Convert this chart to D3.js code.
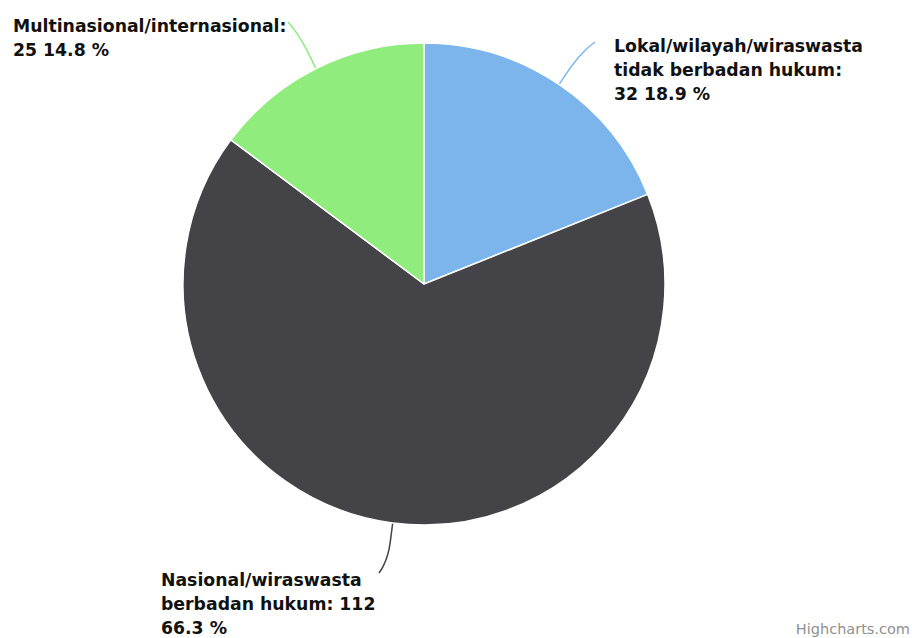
<!DOCTYPE html>
<html>
<head>
<meta charset="utf-8">
<script src="https://cdn.jsdelivr.net/npm/d3@7/dist/d3.min.js"></script>
<style>
  html, body { margin: 0; padding: 0; background: #fff; }
  svg { display: block; }
</style>
</head>
<body>
<svg id="chart" width="912" height="638"></svg>
<script>
// ---- data ----
const categories = [
  "Lokal/wilayah/wiraswasta tidak berbadan hukum",
  "Nasional/wiraswasta berbadan hukum",
  "Multinasional/internasional"
];
const values = [32, 112, 25];
const percents = ["18.9", "66.3", "14.8"];
const colors = ["#7cb5ec", "#434348", "#90ed7d"];

// label line breaks (as wrapped in the original)
const labelLines = [
  ["Lokal/wilayah/wiraswasta", "tidak berbadan hukum:", "32 18.9 %"],
  ["Nasional/wiraswasta", "berbadan hukum: 112", "66.3 %"],
  ["Multinasional/internasional:", "25 14.8 %"]
];

// ---- layout ----
const W = 912, H = 638;
const cx = 424, cy = 284, R = 241;
const lineH = 24;
const labelLayout = [
  { x: 614, y: 52, end: [595, 42] },
  { x: 161, y: 586, end: [379, 573] },
  { x: 13, y: 32, end: [288, 22] }
];

const svg = d3.select("#chart");
const g = svg.append("g").attr("transform", `translate(${cx},${cy})`);

const pie = d3.pie().sort(null).value(d => d)(values);
const arc = d3.arc().innerRadius(0).outerRadius(R);

// connectors
pie.forEach((p, i) => {
  const mid = (p.startAngle + p.endAngle) / 2;
  const dx = Math.sin(mid), dy = -Math.cos(mid);
  const edge = [dx * R, dy * R];
  const brk = [dx * (R + 20), dy * (R + 20)];
  const ctrl = [2 * brk[0] - edge[0], 2 * brk[1] - edge[1]];
  const e = [labelLayout[i].end[0] - cx, labelLayout[i].end[1] - cy];
  const path = d3.path();
  path.moveTo(e[0], e[1]);
  path.bezierCurveTo(e[0], e[1], ctrl[0], ctrl[1], brk[0], brk[1]);
  path.lineTo(edge[0], edge[1]);
  g.append("path")
    .attr("d", path.toString())
    .attr("fill", "none")
    .attr("stroke", colors[i])
    .attr("stroke-width", 1.5);
});

// slices
g.selectAll("path.slice")
  .data(pie)
  .enter().append("path")
  .attr("class", "slice")
  .attr("d", arc)
  .attr("fill", (d, i) => colors[i])
  .attr("stroke", "#ffffff")
  .attr("stroke-width", 1.5)
  .attr("stroke-linejoin", "round");

// labels
labelLines.forEach((lines, i) => {
  const t = svg.append("text")
    .attr("x", labelLayout[i].x)
    .attr("y", labelLayout[i].y)
    .attr("font-family", "DejaVu Sans, Verdana, sans-serif")
    .attr("font-size", 17.3)
    .attr("font-weight", "bold")
    .attr("fill", "#111");
  lines.forEach((ln, j) => {
    t.append("tspan")
      .attr("x", labelLayout[i].x)
      .attr("dy", j === 0 ? 0 : lineH)
      .text(ln);
  });
});

// credits
svg.append("text")
  .attr("x", 910)
  .attr("y", 634)
  .attr("text-anchor", "end")
  .attr("font-family", "DejaVu Sans, Verdana, sans-serif")
  .attr("font-size", 14.5)
  .attr("fill", "#909090")
  .text("Highcharts.com");
</script>
</body>
</html>
